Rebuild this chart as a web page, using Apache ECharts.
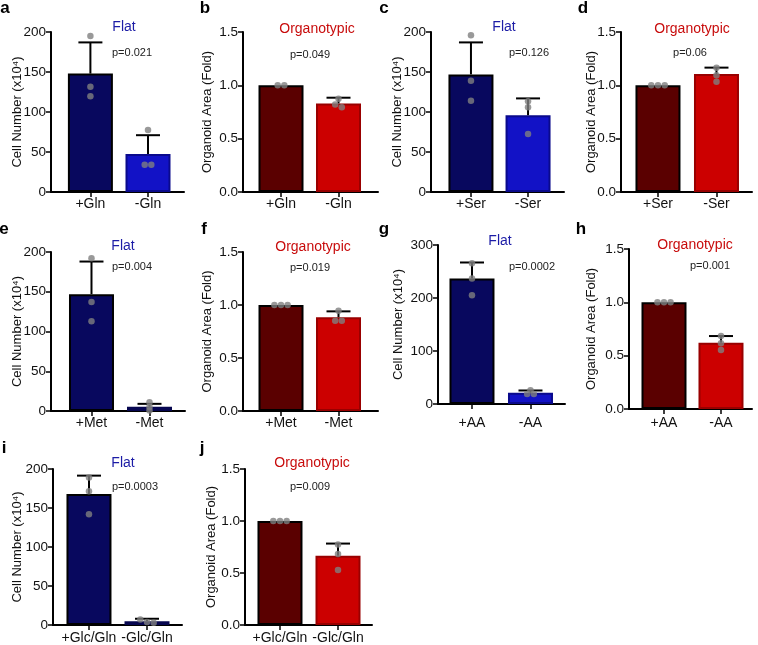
<!DOCTYPE html>
<html>
<head>
<meta charset="utf-8">
<script src="https://cdn.jsdelivr.net/npm/echarts@6/dist/echarts.min.js"></script>
<style>
html,body{margin:0;padding:0;background:#fff}
#chart{width:758px;height:645px}
</style>
</head>
<body>
<div id="chart"></div>
<script>
// a - Gln, flat
var catsA = ['+Gln', '-Gln'];
var meanA = [148, 47.5];
var sdA = [39, 23.5];
var dotsA = [[195, 131.6, 119.6], [77.5, 34, 34]];
// b - Gln, organotypic
var catsB = ['+Gln', '-Gln'];
var meanB = [1.0, 0.83];
var sdB = [0, 0.054];
var dotsB = [[1.0, 1.0], [0.875, 0.82, 0.794]];
// c - Ser, flat
var catsC = ['+Ser', '-Ser'];
var meanC = [147, 96];
var sdC = [40, 21];
var dotsC = [[196, 139, 114], [113.4, 106, 72.5]];
// d - Ser, organotypic
var catsD = ['+Ser', '-Ser'];
var meanD = [1.0, 1.106];
var sdD = [0, 0.06];
var dotsD = [[1.0, 1.0, 1.0], [1.165, 1.094, 1.034]];
// e - Met, flat
var catsE = ['+Met', '-Met'];
var meanE = [147, 5.5];
var sdE = [41, 3.5];
var dotsE = [[192, 137, 113], [11, 5, 0.5]];
// f - Met, organotypic
var catsF = ['+Met', '-Met'];
var meanF = [1.0, 0.884];
var sdF = [0, 0.056];
var dotsF = [[1.0, 1.0, 1.0], [0.946, 0.852, 0.852]];
// g - AA, flat
var catsG = ['+AA', '-AA'];
var meanG = [237, 21];
var sdG = [30, 4.5];
var dotsG = [[265.5, 237, 205], [26, 19, 19]];
// h - AA, organotypic
var catsH = ['+AA', '-AA'];
var meanH = [1.0, 0.622];
var sdH = [0, 0.062];
var dotsH = [[1.0, 1.0, 1.0], [0.684, 0.616, 0.553]];
// i - Glc/Gln, flat
var catsI = ['+Glc/Gln', '-Glc/Gln'];
var meanI = [168, 4.7];
var sdI = [23.5, 3.3];
var dotsI = [[189, 171.4, 142], [7, 4, 3]];
// j - Glc/Gln, organotypic
var catsJ = ['+Glc/Gln', '-Glc/Gln'];
var meanJ = [1.0, 0.667];
var sdJ = [0, 0.116];
var dotsJ = [[1.0, 1.0, 1.0], [0.774, 0.682, 0.528]];

var pVals = ['p=0.021', 'p=0.049', 'p=0.126', 'p=0.06', 'p=0.004', 'p=0.019', 'p=0.0002', 'p=0.001', 'p=0.0003', 'p=0.009'];
// y axis [max, interval]
var yCell = [200, 50];
var yCell300 = [300, 100];
var yFold = [1.5, 0.5];

var FONT = 'Liberation Sans, Arial, Helvetica, sans-serif';
var barStyles = {
  navy:  {color: '#08085e', borderColor: '#000', borderWidth: 2},
  navy2: {color: '#0a0a72', borderColor: '#06064e', borderWidth: 2},
  blue:  {color: '#1212c6', borderColor: '#0a0a8c', borderWidth: 2},
  dred:  {color: '#5a0000', borderColor: '#000', borderWidth: 2},
  red:   {color: '#cc0000', borderColor: '#990000', borderWidth: 2}
};

var panels = [
  {l: 'a', cats: catsA, mean: meanA, sd: sdA, dots: dotsA, y: yCell, flat: true, bars: ['navy', 'blue'],
   grid: [51, 32, 133, 160], xr: [-0.684, 1.625], gap: 27, xm: 5, title: [124, 27], pp: [132, 53], lp: [5, 8]},
  {l: 'b', cats: catsB, mean: meanB, sd: sdB, dots: dotsB, y: yFold, flat: false, bars: ['dred', 'red'],
   grid: [243, 32, 135, 160], xr: [-0.661, 1.687], gap: 29, xm: 5, title: [317, 29], pp: [310, 55], lp: [205, 8]},
  {l: 'c', cats: catsC, mean: meanC, sd: sdC, dots: dotsC, y: yCell, flat: true, bars: ['navy', 'blue'],
   grid: [431, 32, 133, 160], xr: [-0.70, 1.63], gap: 27, xm: 5, title: [504, 27], pp: [529, 53], lp: [384, 8]},
  {l: 'd', cats: catsD, mean: meanD, sd: sdD, dots: dotsD, y: yFold, flat: false, bars: ['dred', 'red'],
   grid: [621, 32, 131, 160], xr: [-0.632, 1.607], gap: 23, xm: 5, title: [692, 29], pp: [690, 53], lp: [583, 8]},
  {l: 'e', cats: catsE, mean: meanE, sd: sdE, dots: dotsE, y: yCell, flat: true, bars: ['navy', 'navy2'],
   grid: [51, 252, 134, 159], xr: [-0.698, 1.612], gap: 27, xm: 5, title: [123, 246], pp: [132, 267], lp: [4, 229]},
  {l: 'f', cats: catsF, mean: meanF, sd: sdF, dots: dotsF, y: yFold, flat: false, bars: ['dred', 'red'],
   grid: [243, 252, 135, 159], xr: [-0.661, 1.687], gap: 29, xm: 5, title: [313, 247], pp: [310, 268], lp: [204, 229]},
  {l: 'g', cats: catsG, mean: meanG, sd: sdG, dots: dotsG, y: yCell300, flat: true, bars: ['navy', 'blue'],
   grid: [438, 245, 127, 159], xr: [-0.581, 1.59], gap: 33, xm: 12, title: [500, 241], pp: [532, 267], lp: [384, 229]},
  {l: 'h', cats: catsH, mean: meanH, sd: sdH, dots: dotsH, y: yFold, flat: false, bars: ['dred', 'red'],
   grid: [629, 249, 123, 160], xr: [-0.614, 1.544], gap: 31, xm: 7, title: [695, 245], pp: [710, 266], lp: [581, 229]},
  {l: 'i', cats: catsI, mean: meanI, sd: sdI, dots: dotsI, y: yCell, flat: true, bars: ['navy', 'navy2'],
   grid: [53, 469, 129, 159], xr: [-0.62, 1.603], gap: 29, xm: 6, title: [123, 463], pp: [135, 487], lp: [4, 448]},
  {l: 'j', cats: catsJ, mean: meanJ, sd: sdJ, dots: dotsJ, y: yFold, flat: false, bars: ['dred', 'red'],
   grid: [245, 469, 127, 159], xr: [-0.603, 1.586], gap: 27, xm: 6, title: [312, 463], pp: [310, 487], lp: [202, 448]}
];

// dots that would overlap on screen are put side by side, like Prism does
function spread(vals, yMax, plotH) {
  var tol = 3 * yMax / plotH;
  var idx = vals.map(function (v, i) { return i; }).sort(function (a, b) { return vals[b] - vals[a]; });
  var groups = [];
  idx.forEach(function (i) {
    var g = groups[groups.length - 1];
    if (g && Math.abs(vals[g[g.length - 1]] - vals[i]) <= tol) g.push(i); else groups.push([i]);
  });
  var off = [];
  groups.forEach(function (g) {
    g.forEach(function (i, k) { off[i] = (k - (g.length - 1) / 2) * 0.115; });
  });
  return off;
}

function errorBar(params, api) {
  var x = api.value(0), m = api.value(1), hi = api.value(2);
  if (hi <= m) return null;
  var p0 = api.coord([x, m]);
  var p1 = api.coord([x, hi]);
  var st = {stroke: '#000', lineWidth: 2};
  return {type: 'group', children: [
    {type: 'line', shape: {x1: p0[0], y1: p0[1], x2: p1[0], y2: p1[1]}, style: st},
    {type: 'line', shape: {x1: p1[0] - 12, y1: p1[1], x2: p1[0] + 12, y2: p1[1]}, style: st}
  ]};
}

var option = {
  backgroundColor: '#fff',
  animation: false,
  title: [], grid: [], xAxis: [], yAxis: [], series: []
};

panels.forEach(function (p, k) {
  var fold = !p.flat;
  option.grid.push({left: p.grid[0], top: p.grid[1], width: p.grid[2], height: p.grid[3]});
  option.xAxis.push({
    type: 'value', gridIndex: k, min: p.xr[0], max: p.xr[1],
    axisLine: {onZero: false, lineStyle: {color: '#000', width: 2}},
    axisTick: {show: true, customValues: [0, 1], length: 5, lineStyle: {color: '#000', width: 1.5}},
    axisLabel: {customValues: [0, 1], margin: p.xm, color: '#111', fontSize: 14, fontFamily: FONT,
      formatter: function (v) { return p.cats[Math.round(v)]; }},
    splitLine: {show: false}
  });
  option.yAxis.push({
    type: 'value', gridIndex: k, min: 0, max: p.y[0], interval: p.y[1],
    name: fold ? 'Organoid Area (Fold)' : 'Cell Number (x10⁴)',
    nameLocation: 'middle', nameGap: p.gap, nameMoveOverlap: false,
    nameTextStyle: {fontSize: 13, color: '#111', fontFamily: FONT},
    axisLine: {show: true, onZero: false, lineStyle: {color: '#000', width: 2}},
    axisTick: {show: true, length: 5, lineStyle: {color: '#000', width: 1.5}},
    axisLabel: {margin: 5, color: '#111', fontSize: 13.5, fontFamily: FONT,
      formatter: function (v) { return fold ? v.toFixed(1) : String(v); }},
    splitLine: {show: false}
  });
  option.series.push({
    type: 'bar', xAxisIndex: k, yAxisIndex: k, barWidth: 45, z: 2,
    data: p.mean.map(function (m, i) {
      return {value: [i, m], itemStyle: barStyles[p.bars[i]]};
    })
  });
  option.series.push({
    type: 'custom', xAxisIndex: k, yAxisIndex: k, z: 3, renderItem: errorBar,
    data: p.mean.map(function (m, i) { return [i, m, m + p.sd[i]]; })
  });
  var pts = [];
  p.dots.forEach(function (vals, i) {
    var off = spread(vals, p.y[0], p.grid[3]);
    vals.forEach(function (v, j) { pts.push([i + off[j], v]); });
  });
  option.series.push({
    type: 'scatter', xAxisIndex: k, yAxisIndex: k, z: 4, symbolSize: 6.5,
    itemStyle: {color: '#808080'}, data: pts
  });
  option.title.push({
    text: p.flat ? 'Flat' : 'Organotypic', left: p.title[0], top: p.title[1], padding: 0,
    textAlign: 'center', textVerticalAlign: 'middle',
    textStyle: {fontSize: 14, fontWeight: 'normal', fontFamily: FONT, color: p.flat ? '#1c1ca6' : '#c80c0c'}
  });
  option.title.push({
    text: pVals[k], left: p.pp[0], top: p.pp[1], padding: 0,
    textAlign: 'center', textVerticalAlign: 'middle',
    textStyle: {fontSize: 11, fontWeight: 'normal', fontFamily: FONT, color: '#222'}
  });
  option.title.push({
    text: p.l, left: p.lp[0], top: p.lp[1], padding: 0,
    textAlign: 'center', textVerticalAlign: 'middle',
    textStyle: {fontSize: 17, fontWeight: 'bold', fontFamily: FONT, color: '#000'}
  });
});

var myChart = echarts.init(document.getElementById('chart'));
myChart.setOption(option);
window.addEventListener('resize', function () { myChart.resize(); });
</script>
</body>
</html>
